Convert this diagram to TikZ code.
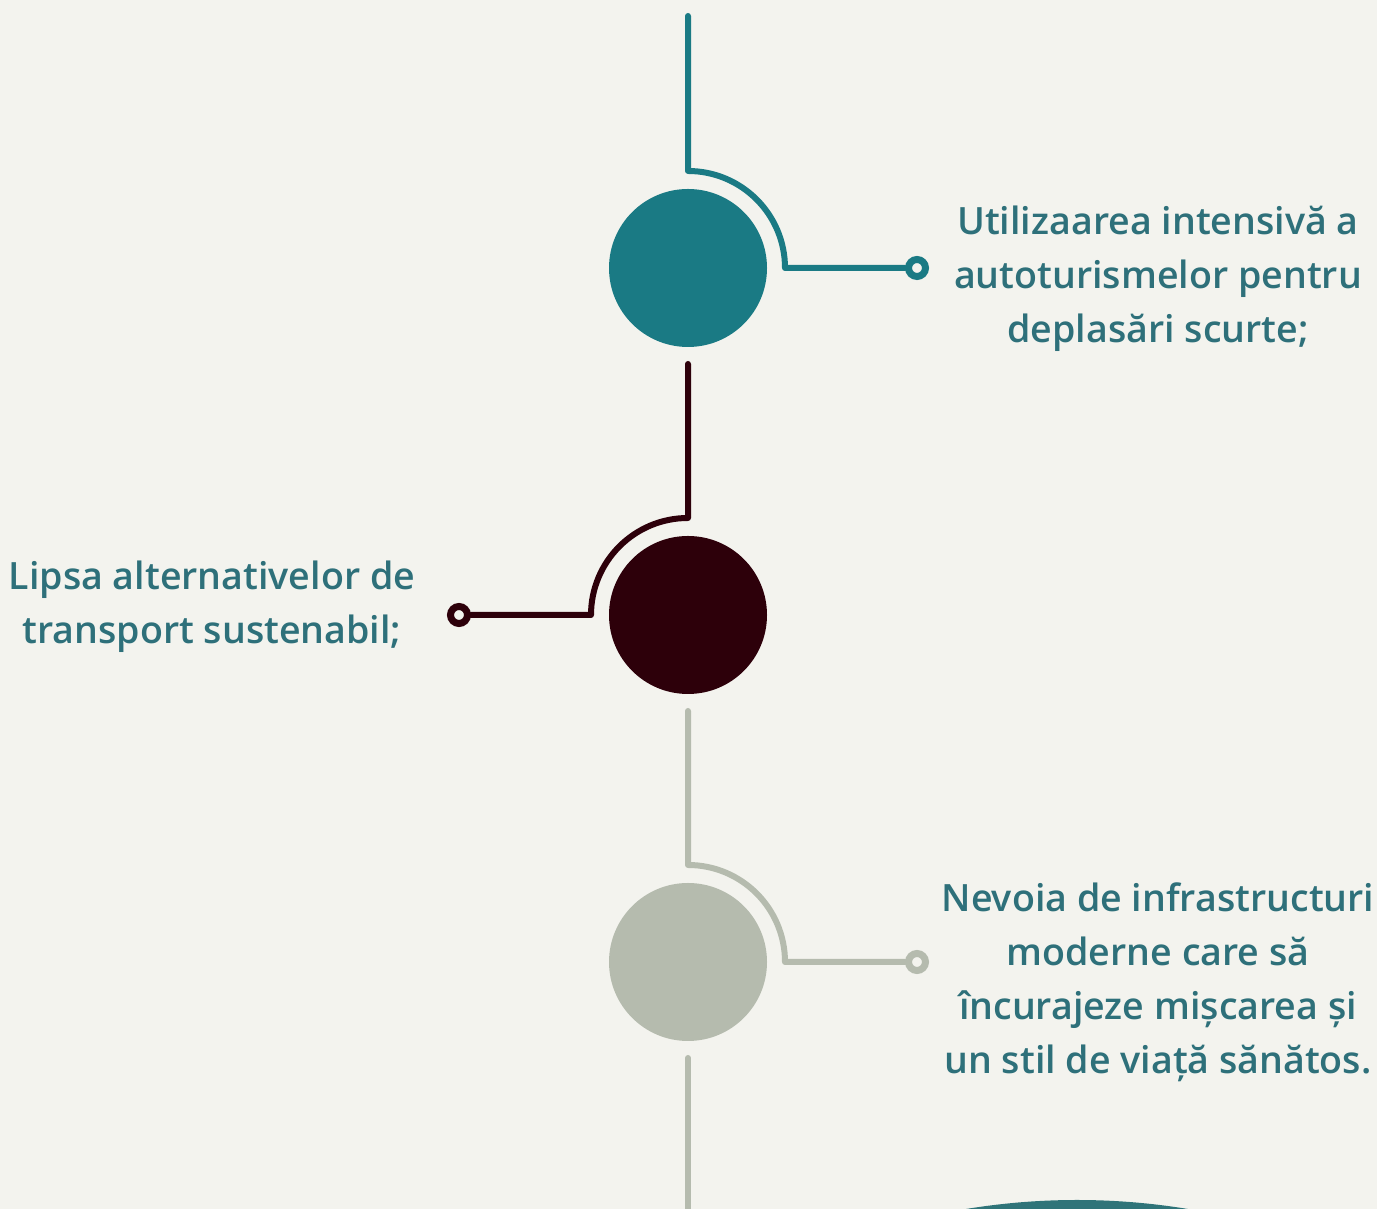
\documentclass[tikz,border=0pt]{standalone}
\usepackage{fontspec}
\setmainfont{Open Sans}[UprightFont={* Semibold}]
\usepackage{tikz}

\definecolor{bgpaper}{HTML}{F3F3EE}
\definecolor{tealdot}{HTML}{1A7A84}
\definecolor{tealtext}{HTML}{2E707A}
\definecolor{maroondot}{HTML}{2D000A}
\definecolor{greydot}{HTML}{B5BBAE}
\definecolor{tealcap}{HTML}{2F7479}

\begin{document}
\begin{tikzpicture}[x=1pt,y=1pt,
    bigdot/.style={circle,inner sep=0pt,minimum size=158pt,fill=#1},
    ring/.style={circle,draw=#1,line width=7pt,fill=bgpaper,inner sep=0pt,minimum size=17pt},
    wire/.style={draw=#1,line width=6pt,line cap=round,line join=round},
    label/.style={text=tealtext,align=center,font=\fontsize{37.6}{54}\selectfont}]

    % Paper
    \fill[bgpaper] (0,0) rectangle (1377,1209);
    \useasboundingbox (0,0) rectangle (1377,1209);
    \clip (0,0) rectangle (1377,1209);

    % Dots on the timeline
    \foreach \i/\y/\c in {1/941/tealdot,2/594/maroondot,3/247/greydot} {
      \node[bigdot=\c] (c\i) at (688,\y) {};
    }

    % Ring ends of the side wires
    \node[ring=tealdot] (m1) at (917,941) {};
    \node[ring=maroondot] (m2) at (459,594) {};
    \node[ring=greydot] (m3) at (917,247) {};

    % Stems above each dot
    \coordinate (s1) at (688,1193);
    \coordinate (e1) at (688,1038);
    \coordinate (s2) at (688,845);
    \coordinate (e2) at (688,691);
    \coordinate (s3) at (688,498);
    \coordinate (e3) at (688,344);
    \coordinate (s4) at (688,151);
    \coordinate (e4) at (688,-10);

    % Wires: stem, quarter arc round the dot, then out to the ring
    \draw[wire=tealdot] (s1) -- (e1) arc[start angle=90,end angle=0,radius=97] -- (m1);
    \draw[wire=maroondot] (s2) -- (e2) arc[start angle=90,end angle=180,radius=97] -- (m2);
    \draw[wire=greydot] (s3) -- (e3) arc[start angle=90,end angle=0,radius=97] -- (m3);
    \draw[wire=greydot] (s4) -- (e4);

    % Next dot, cut off by the bottom edge
    \fill[tealcap] (1077,-671) circle[radius=680];

    % Texts
    \node[label] (t1) at (1158,930) {Utilizaarea intensivă a\\autoturismelor pentru\\deplasări scurte;};
    \node[label] (t2) at (212,602) {Lipsa alternativelor de\\transport sustenabil;};
    \node[label] (t3) at (1158,227) {Nevoia de infrastructuri\\moderne care să\\încurajeze mișcarea și\\un stil de viață sănătos.};

\end{tikzpicture}
\end{document}
